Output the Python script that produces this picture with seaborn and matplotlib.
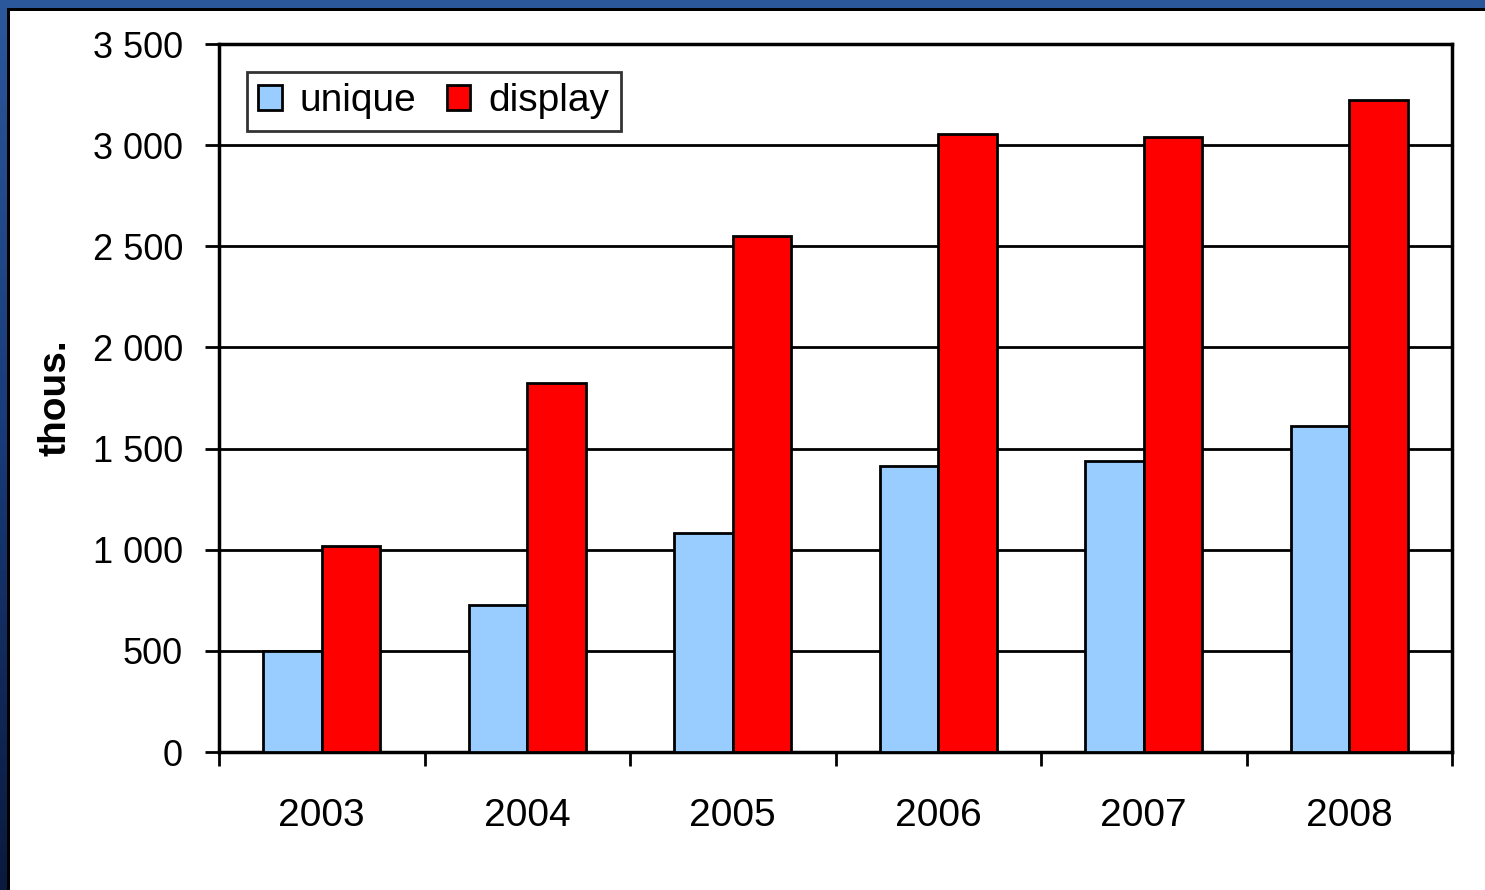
import numpy as np
import pandas as pd
import seaborn as sns
import matplotlib.pyplot as plt
from matplotlib.patches import Rectangle
from matplotlib.colors import LinearSegmentedColormap

# data (thousands)
years = ['2003', '2004', '2005', '2006', '2007', '2008']
unique = [500, 727, 1083, 1414, 1439, 1612]
display = [1018, 1824, 2551, 3055, 3041, 3223]
y_ticks = [0, 500, 1000, 1500, 2000, 2500, 3000, 3500]
y_labels = ['0', '500', '1 000', '1 500', '2 000', '2 500', '3 000', '3 500']

df = pd.DataFrame({'year': years * 2,
                   'value': unique + display,
                   'series': ['unique'] * len(years) + ['display'] * len(years)})

sns.set_theme(style='white')
plt.rcParams['font.family'] = ['Liberation Sans', 'DejaVu Sans']
plt.rcParams['text.color'] = 'black'
plt.rcParams['axes.labelcolor'] = 'black'
plt.rcParams['xtick.color'] = 'black'
plt.rcParams['ytick.color'] = 'black'

W, H = 1485, 890
fig = plt.figure(figsize=(W / 100, H / 100), dpi=100)
fig.patch.set_facecolor('white')

# blue frame on top and left
top = fig.add_axes([0, 1 - 8 / H, 1, 8 / H])
top.imshow(np.linspace(0, 1, 100)[None, :], aspect='auto',
           cmap=LinearSegmentedColormap.from_list('t', ['#2b579b', '#2b579b']))
top.axis('off')
left = fig.add_axes([0, 0, 7 / W, 1])
left.imshow(np.linspace(0, 1, 100)[:, None], aspect='auto',
            cmap=LinearSegmentedColormap.from_list('l', ['#2b579b', '#183a78', '#0a1a3e']))
left.axis('off')
fig.add_artist(Rectangle((7 / W, 0), 3 / W, 1 - 8 / H, transform=fig.transFigure,
                         facecolor='black', edgecolor='none'))
fig.add_artist(Rectangle((7 / W, 1 - 11 / H), 1 - 7 / W, 3 / H, transform=fig.transFigure,
                         facecolor='black', edgecolor='none'))

ax = fig.add_axes([219 / W, 1 - 752 / H, (1452 - 219) / W, (752 - 44) / H])
sns.barplot(data=df, x='year', y='value', hue='series', order=years,
            hue_order=['unique', 'display'],
            palette={'unique': '#99ccff', 'display': '#ff0000'},
            width=0.57, edgecolor='black', linewidth=2, saturation=1, ax=ax, zorder=3)

ax.set_xlim(-0.5, 5.5)
ax.set_ylim(0, 3500)
ax.set_yticks(y_ticks)
ax.set_yticklabels(y_labels, fontsize=26)
ax.yaxis.grid(True, color='black', linewidth=2)
ax.set_axisbelow(True)
ax.tick_params(axis='y', length=10, width=2, direction='out', left=True, pad=16)

# labels at centers, ticks at category boundaries
ax.set_xticks(range(len(years)))
ax.set_xticklabels(years, fontsize=28)
ax.set_xticks(np.arange(-0.5, 6, 1), minor=True)
ax.tick_params(axis='x', which='major', length=0, pad=33)
ax.tick_params(axis='x', which='minor', length=10, width=2, direction='out', bottom=True)
ax.set_xlabel('')
ax.set_ylabel('thous.', fontsize=28, fontweight='bold', labelpad=14)

for s in ax.spines.values():
    s.set_visible(True)
    s.set_color('black')
    s.set_linewidth(2.5)

leg = ax.legend(loc='upper left', bbox_to_anchor=(0.0225, 0.961), ncol=2, fontsize=28,
                frameon=True, fancybox=False, edgecolor='black', handlelength=0.6,
                handleheight=0.6, handletextpad=0.45, columnspacing=0.8,
                borderpad=0.3, borderaxespad=0)
leg.get_frame().set_linewidth(2)
leg.set_zorder(5)

fig.savefig('out.png', dpi=100)
